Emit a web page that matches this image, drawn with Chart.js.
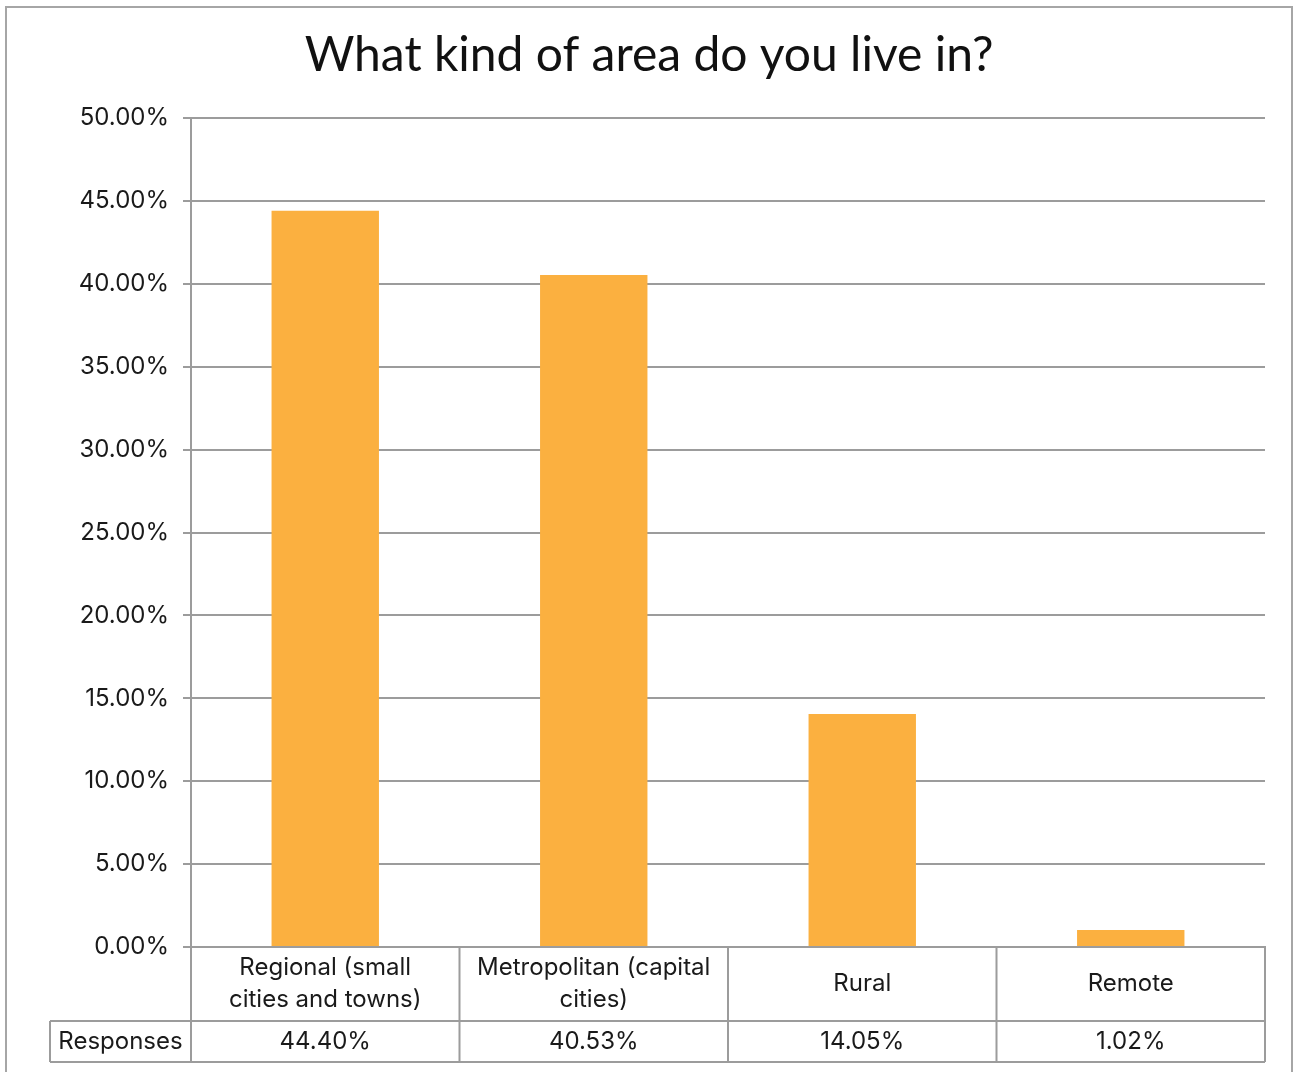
<!DOCTYPE html>
<html>
<head>
<meta charset="utf-8">
<script src="https://cdn.jsdelivr.net/npm/chart.js@4"></script>
<style>
  html, body { margin: 0; padding: 0; background: #fff; }
  canvas { display: block; }
</style>
</head>
<body>
<canvas id="myChart" width="1296" height="1072"></canvas>
<script>
const title = 'What kind of area do you live in?';
const categories = [
    ['Regional (small', 'cities and towns)'],
    ['Metropolitan (capital', 'cities)'],
    ['Rural'],
    ['Remote']
];
const responses = [44.40, 40.53, 14.05, 1.02];
const rowLabel = 'Responses';
const yTicks = [0, 5, 10, 15, 20, 25, 30, 35, 40, 45, 50];

const FONT = 'Inter, "Open Sans", sans-serif';
const TITLE_FONT = 'Lato, "Open Sans", sans-serif';
const GRID = '#9c9c9c';

// frame, title and the data table under the x axis
const tablePlugin = {
    id: 'dataTable',
    beforeDraw: (chart) => {
        const ctx = chart.ctx;
        ctx.save();
        ctx.strokeStyle = '#a6a6a6';
        ctx.lineWidth = 2;
        ctx.strokeRect(6, 7, 1286, 1075);
        ctx.fillStyle = '#111';
        ctx.font = '48px ' + TITLE_FONT;
        ctx.textAlign = 'center';
        ctx.textBaseline = 'middle';
        ctx.fillText(title, 649, 56);
        ctx.restore();
    },
    afterDraw: (chart) => {
        const ctx = chart.ctx;
        const x = chart.scales.x;
        const area = chart.chartArea;
        const half = (x.getPixelForValue(1) - x.getPixelForValue(0)) / 2;
        const top = area.bottom;
        const mid = top + 74;
        const bottom = mid + 41;
        const left = area.left;
        const right = area.right;

        ctx.save();
        ctx.strokeStyle = GRID;
        ctx.lineWidth = 2;
        ctx.beginPath();
        ctx.moveTo(50, mid); ctx.lineTo(right, mid);
        ctx.moveTo(50, bottom); ctx.lineTo(right, bottom);
        ctx.moveTo(50, mid); ctx.lineTo(50, bottom);
        ctx.moveTo(left, top); ctx.lineTo(left, bottom);
        categories.forEach((c, i) => {
            const b = x.getPixelForValue(i) + half;
            ctx.moveTo(b, top); ctx.lineTo(b, bottom);
        });
        ctx.stroke();

        ctx.fillStyle = '#1a1a1a';
        ctx.font = '24px ' + FONT;
        ctx.textAlign = 'center';
        ctx.textBaseline = 'middle';
        const lh = 32;
        categories.forEach((lines, i) => {
            const cx = x.getPixelForValue(i);
            const cy = (top + mid) / 2;
            lines.forEach((t, j) => {
                ctx.fillText(t, cx, cy + (j - (lines.length - 1) / 2) * lh);
            });
            ctx.fillText(responses[i].toFixed(2) + '%', cx, (mid + bottom) / 2);
        });
        ctx.fillText(rowLabel, (50 + left) / 2, (mid + bottom) / 2);
        ctx.restore();
    }
};

const ctx = document.getElementById('myChart');

const dataset = {
    labels: categories,
    datasets: [{
        label: rowLabel,
        data: responses,
        backgroundColor: '#fbb040',
        borderWidth: 0,
        barPercentage: 0.4,
        categoryPercentage: 1
    }]
};

const config = {
    type: 'bar',
    data: dataset,
    options: {
        responsive: false,
        animation: false,
        layout: { padding: { left: 0, right: 31, top: 118, bottom: 0 } },
        plugins: {
            legend: { display: false },
            tooltip: { enabled: false },
            title: { display: false }
        },
        scales: {
            x: {
                grid: { display: false },
                border: { display: true, color: GRID, width: 2 },
                ticks: { display: false },
                afterFit: (scale) => { scale.height = 125; }
            },
            y: {
                min: 0,
                max: 50,
                afterBuildTicks: (scale) => { scale.ticks = yTicks.map(v => ({ value: v })); },
                grid: { color: GRID, lineWidth: 2, tickLength: 8 },
                border: { display: true, color: GRID, width: 2 },
                ticks: {
                    color: '#1a1a1a',
                    padding: 14,
                    font: { family: FONT, size: 24 },
                    callback: (v) => v.toFixed(2) + '%'
                },
                afterFit: (scale) => { scale.width = 191; }
            }
        }
    },
    plugins: [tablePlugin]
};

const chart = new Chart(ctx, config);
</script>
</body>
</html>
